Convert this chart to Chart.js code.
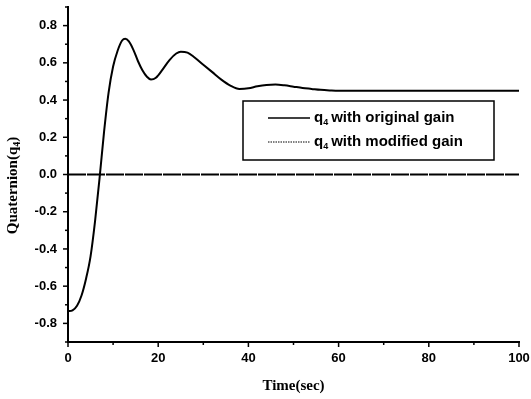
<!DOCTYPE html>
<html>
<head>
<meta charset="utf-8">
<script src="https://cdn.jsdelivr.net/npm/chart.js@4.4.0/dist/chart.umd.min.js"></script>
<style>
  html, body { margin: 0; padding: 0; background: #fff; }
  #wrap { width: 531px; height: 399px; position: relative; }
</style>
</head>
<body>
<div id="wrap"><canvas id="grafico"></canvas></div>
<script>
// tempo em segundos e resposta do quaternion q4
const tempo = [0, 1, 2, 3, 4, 5, 6, 7, 8, 9, 10, 11, 12, 12.7, 13.5, 14.5, 15.5, 16.5, 17.5, 18.4,
  19.5, 21, 22.5, 24, 25, 26.5, 28, 30, 32, 34, 36, 38, 40, 42, 44, 46, 48, 50, 52, 54, 56, 58,
  60, 65, 70, 80, 90, 100];
const q4Original = [-0.735, -0.73, -0.705, -0.65, -0.56, -0.44, -0.25, -0.02, 0.23, 0.44, 0.58, 0.665, 0.72, 0.73, 0.715, 0.67, 0.61, 0.56, 0.525, 0.51,
  0.52, 0.565, 0.615, 0.65, 0.66, 0.655, 0.63, 0.59, 0.55, 0.51, 0.478, 0.46, 0.463, 0.474, 0.481, 0.483, 0.479, 0.472, 0.465, 0.46, 0.455, 0.452,
  0.45, 0.45, 0.45, 0.45, 0.45, 0.45];
const tempoModificado = [0, 100];
const q4Modificado = [0, 0];

const rotulosLegenda = ['with original gain', 'with modified gain'];
const tituloX = 'Time(sec)';
const tituloY = ['Quaternion(q', '4', ')'];

const fonteEixo = { family: 'Liberation Sans', size: 13, weight: 'bold' };

// marcas dos eixos, titulo do eixo y e legenda com subscrito
const extras = {
  id: 'extras',
  afterDraw(chart) {
    const { ctx, chartArea: a, scales: { x, y } } = chart;
    ctx.save();
    ctx.strokeStyle = '#000';
    ctx.lineWidth = 1.5;
    x.ticks.forEach(t => {
      const px = x.getPixelForValue(t.value);
      const len = t.value % 20 === 0 ? 5 : 3;
      ctx.beginPath(); ctx.moveTo(px, a.bottom); ctx.lineTo(px, a.bottom + len); ctx.stroke();
    });
    y.ticks.forEach(t => {
      const py = y.getPixelForValue(t.value);
      const len = Math.round(t.value * 10) % 2 === 0 ? 5 : 3;
      ctx.beginPath(); ctx.moveTo(a.left, py); ctx.lineTo(a.left - len, py); ctx.stroke();
    });

    // titulo do eixo y
    ctx.fillStyle = '#000';
    ctx.textBaseline = 'middle';
    ctx.textAlign = 'left';
    const fy = 'bold 15px "Liberation Serif"';
    const fs = 'bold 10px "Liberation Serif"';
    ctx.font = fy; const w1 = ctx.measureText(tituloY[0]).width; const w3 = ctx.measureText(tituloY[2]).width;
    ctx.font = fs; const w2 = ctx.measureText(tituloY[1]).width;
    const total = w1 + w2 + w3;
    ctx.save();
    ctx.translate(13, (a.top + a.bottom) / 2 + 11);
    ctx.rotate(-Math.PI / 2);
    ctx.font = fy; ctx.fillText(tituloY[0], -total / 2, 0);
    ctx.font = fs; ctx.fillText(tituloY[1], -total / 2 + w1, 4);
    ctx.font = fy; ctx.fillText(tituloY[2], -total / 2 + w1 + w2, 0);
    ctx.restore();

    // legenda
    const bx = a.right - 276, by = a.top + 94, bw = 251, bh = 59;
    ctx.lineWidth = 1.5;
    ctx.strokeRect(bx, by, bw, bh);
    chart.data.datasets.forEach((ds, i) => {
      const ly = by + 17 + i * 24;
      ctx.save();
      ctx.lineWidth = i === 0 ? 1.5 : 1;
      ctx.setLineDash(i === 0 ? [] : [1.5, 1]);
      ctx.beginPath(); ctx.moveTo(bx + 25, ly); ctx.lineTo(bx + 67, ly); ctx.stroke();
      ctx.restore();
      let tx = bx + 71;
      ctx.font = 'bold 15px "Liberation Sans"';
      ctx.fillText('q', tx, ly);
      tx += ctx.measureText('q').width;
      ctx.font = 'bold 9px "Liberation Sans"';
      ctx.fillText('4', tx, ly + 5);
      tx += ctx.measureText('4').width + 3;
      ctx.font = 'bold 15px "Liberation Sans"';
      ctx.fillText(rotulosLegenda[i], tx, ly);
    });
    ctx.restore();
  }
};

new Chart(document.getElementById('grafico'), {
  type: 'line',
  data: {
    datasets: [
      {
        label: 'q4 ' + rotulosLegenda[0],
        data: tempo.map((t, i) => ({ x: t, y: q4Original[i] })),
        borderColor: '#000',
        borderWidth: 2,
        pointRadius: 0,
        cubicInterpolationMode: 'monotone',
        fill: false
      },
      {
        label: 'q4 ' + rotulosLegenda[1],
        data: tempoModificado.map((t, i) => ({ x: t, y: q4Modificado[i] })),
        borderColor: '#000',
        borderWidth: 2,
        borderDash: [18, 1],
        pointRadius: 0,
        fill: false
      }
    ]
  },
  options: {
    responsive: true,
    maintainAspectRatio: false,
    animation: false,
    layout: { padding: { top: 7, right: 0, left: 0, bottom: 0 } },
    plugins: { legend: { display: false }, tooltip: { enabled: false } },
    scales: {
      x: {
        type: 'linear',
        min: 0, max: 100,
        afterFit: s => { s.height = 57; s.paddingRight = 12; },
        border: { display: true, color: '#000', width: 2 },
        grid: { display: false, drawTicks: false },
        ticks: {
          stepSize: 10,
          padding: 9,
          color: '#000',
          font: fonteEixo,
          maxRotation: 0,
          autoSkip: false,
          callback: v => (v % 20 === 0 ? String(v) : '')
        },
        title: {
          display: true,
          text: tituloX,
          color: '#000',
          font: { family: 'Liberation Serif', size: 15, weight: 'bold' },
          padding: { top: 4, bottom: 4 }
        }
      },
      y: {
        min: -0.9, max: 0.9,
        afterFit: s => { s.width = 68; s.paddingTop = 0; s.paddingBottom = 0; },
        border: { display: true, color: '#000', width: 2 },
        grid: { display: false, drawTicks: false },
        ticks: {
          stepSize: 0.1,
          padding: 11,
          color: '#000',
          font: fonteEixo,
          autoSkip: false,
          callback: v => {
            const n = Math.round(v * 10);
            return n % 2 === 0 ? (n / 10).toFixed(1) : '';
          }
        }
      }
    }
  },
  plugins: [extras]
});
</script>
</body>
</html>
